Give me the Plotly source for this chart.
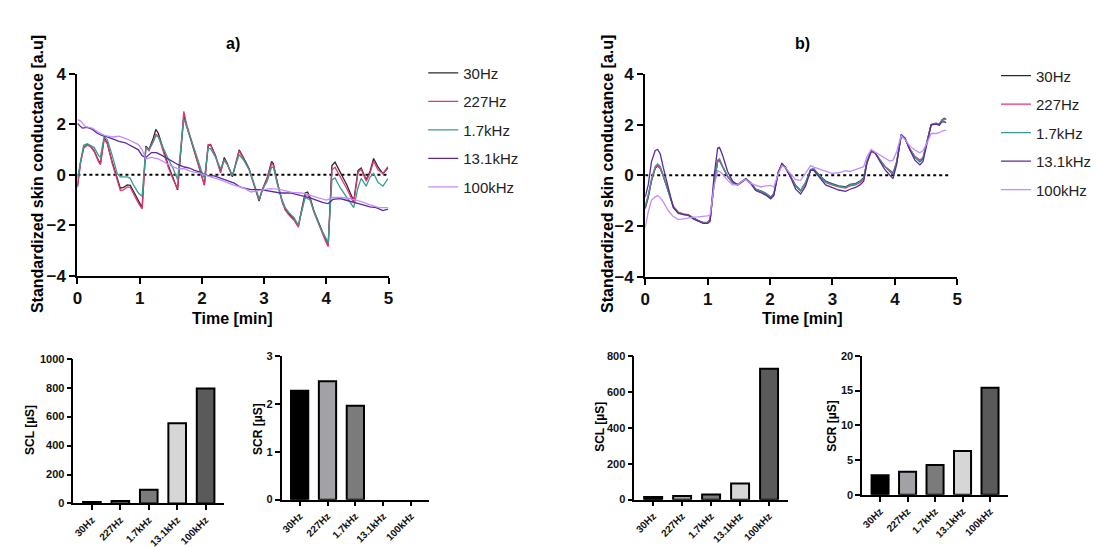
import plotly.graph_objects as go

# ---------------- data ----------------
NAMES = ["30Hz", "227Hz", "1.7kHz", "13.1kHz", "100kHz"]
LINE_COLORS = ["#2a2a2a", "#e8336f", "#3a9b93", "#5a2c9a", "#c28eff"]

# panel a) time grid for 30Hz / 227Hz / 1.7kHz
A_T = [0, 0.05, 0.10, 0.16, 0.21, 0.27, 0.34, 0.37, 0.43, 0.48,
       0.56, 0.64, 0.69, 0.74, 0.80, 0.85, 0.90, 0.98, 1.04, 1.10,
       1.15, 1.22, 1.26, 1.30, 1.38, 1.46, 1.54, 1.61, 1.71, 1.75,
       1.83, 1.91, 1.99, 2.04, 2.10, 2.14, 2.22, 2.30, 2.36, 2.41,
       2.49, 2.60, 2.68, 2.76, 2.84, 2.92, 2.97, 3.03, 3.05, 3.12,
       3.15, 3.21, 3.29, 3.34, 3.40, 3.48, 3.53, 3.55, 3.61, 3.66,
       3.70, 3.74, 3.80, 3.85, 3.90, 3.98, 4.03, 4.09, 4.14, 4.22,
       4.33, 4.44, 4.51, 4.56, 4.64, 4.70, 4.76, 4.83, 4.91, 4.99]
A_30 = [-0.46, 0.5, 1.08, 1.2, 1.14, 0.95, 0.56, 0.44, 1.46, 1.27,
        0.5, -0.14, -0.53, -0.5, -0.4, -0.42, -0.65, -1.04, -1.3, 1.14,
        1.0, 1.46, 1.8, 1.65, 1.0, 0.37, -0.14, -0.6, 2.36, 1.97,
        1.33, 0.69, 0.05, -0.4, 1.14, 1.2, 0.76, 0.12, 0.69, 0.44,
        -0.08, 0.99, 0.63, 0.24, -0.4, -1.04, -0.59, -0.2, -0.12, 0.53,
        0.44, -0.27, -1.04, -1.36, -1.55, -1.74, -1.94, -2.03, -1.3, -0.72,
        -0.68, -0.91, -1.42, -1.74, -2.06, -2.51, -2.75, 0.37, 0.5, 0.12,
        -0.4, -1.04, 0.18, 0.27, -0.2, 0.12, 0.65, 0.31, 0.05, 0.27]
A_227 = [-0.5, 0.45, 1.05, 1.18, 1.12, 0.92, 0.52, 0.4, 1.42, 1.24,
         0.45, -0.22, -0.62, -0.6, -0.48, -0.5, -0.75, -1.12, -1.35, 1.1,
         0.95, 1.35, 1.6, 1.55, 0.95, 0.3, -0.2, -0.55, 2.52, 2.05,
         1.38, 0.72, 0.05, -0.42, 1.2, 1.18, 0.72, 0.08, 0.62, 0.4,
         -0.05, 0.95, 0.58, 0.2, -0.42, -1.0, -0.62, -0.25, -0.15, 0.45,
         0.38, -0.3, -1.08, -1.4, -1.6, -1.8, -2.0, -2.08, -1.35, -0.82,
         -0.78, -0.98, -1.48, -1.8, -2.12, -2.58, -2.85, 0.2, 0.3, -0.05,
         -0.55, -1.12, 0.1, 0.22, -0.25, 0.05, 0.55, 0.2, 0.05, 0.32]
A_17 = [-0.15, 0.55, 1.17, 1.23, 1.15, 1.08, 0.76, 0.7, 1.53, 1.4,
        0.76, 0.05, -0.08, -0.08, -0.08, -0.14, -0.4, -0.72, -0.85, 1.08,
        0.99, 1.3, 1.55, 1.5, 1.05, 0.63, 0.24, -0.2, 2.23, 1.95,
        1.4, 0.8, 0.18, -0.14, 1.04, 1.04, 0.7, 0.24, 0.56, 0.4,
        -0.01, 0.8, 0.55, 0.2, -0.35, -0.95, -0.6, -0.3, -0.25, 0.3,
        0.3, -0.35, -1.0, -1.3, -1.5, -1.7, -1.9, -2.0, -1.4, -0.9,
        -0.95, -1.0, -1.45, -1.78, -2.08, -2.45, -2.7, -0.2, -0.12, -0.5,
        -0.9, -1.3, -0.5, -0.14, -0.45, -0.1, 0.05, -0.3, -0.45, -0.15]
A_T131 = [0, 0.08, 0.16, 0.24, 0.32, 0.40, 0.48, 0.56, 0.67, 0.77,
          0.88, 0.98, 1.04, 1.10, 1.19, 1.27, 1.35, 1.46, 1.54, 1.62,
          1.72, 1.80, 1.88, 1.96, 2.04, 2.12, 2.20, 2.30, 2.41, 2.52,
          2.63, 2.79, 2.95, 3.10, 3.26, 3.42, 3.58, 3.74, 3.85, 3.95,
          4.03, 4.11, 4.22, 4.33, 4.49, 4.59, 4.70, 4.80, 4.91, 4.99]
A_131 = [2.04, 1.85, 1.88, 1.8, 1.65, 1.55, 1.5, 1.42, 1.33, 1.27,
         1.14, 0.99, 0.76, 0.69, 0.88, 0.88, 0.78, 0.63, 0.5, 0.4,
         0.31, 0.27, 0.18, 0.12, 0.01, -0.04, -0.04, -0.14, -0.22, -0.33,
         -0.5, -0.59, -0.59, -0.65, -0.72, -0.72, -0.82, -0.91, -1.01, -1.1,
         -1.14, -0.97, -0.94, -1.01, -1.1, -1.19, -1.27, -1.3, -1.42, -1.36]
A_T100 = [0, 0.05, 0.13, 0.24, 0.34, 0.45, 0.56, 0.67, 0.80, 0.90,
          0.98, 1.04, 1.10, 1.19, 1.30, 1.40, 1.51, 1.62, 1.72, 1.82,
          1.95, 2.10, 2.30, 2.50, 2.68, 2.79, 2.95, 3.10, 3.25, 3.45,
          3.60, 3.69, 3.85, 4.00, 4.11, 4.25, 4.40, 4.55, 4.70, 4.85, 4.99]
A_100 = [2.19, 2.14, 1.91, 1.85, 1.68, 1.55, 1.5, 1.53, 1.42, 1.29,
         1.2, 0.99, 0.63, 0.69, 0.63, 0.5, 0.35, 0.24, 0.24, 0.14,
         0.08, -0.05, -0.2, -0.4, -0.53, -0.68, -0.6, -0.55, -0.58, -0.7,
         -0.72, -0.78, -0.88, -1.0, -0.9, -0.9, -0.95, -1.05, -1.19, -1.3, -1.3]

# panel b)
B_T = [0, 0.05, 0.10, 0.16, 0.20, 0.24, 0.29, 0.37, 0.45, 0.53,
       0.61, 0.69, 0.77, 0.85, 0.93, 1.00, 1.04, 1.10, 1.16, 1.19,
       1.24, 1.32, 1.40, 1.48, 1.56, 1.61, 1.69, 1.77, 1.85, 1.93,
       2.01, 2.06, 2.13, 2.19, 2.25, 2.33, 2.41, 2.49, 2.57, 2.65,
       2.70, 2.78, 2.89, 2.99, 3.10, 3.21, 3.28, 3.37, 3.44, 3.50,
       3.55, 3.62, 3.68, 3.76, 3.84, 3.92, 3.97, 4.03, 4.10, 4.16,
       4.24, 4.32, 4.40, 4.45, 4.52, 4.58, 4.66, 4.71, 4.75, 4.79, 4.82]
B_30 = [-1.31, -0.86, -0.23, 0.28, 0.38, 0.28, -0.04, -0.67, -1.24, -1.47,
        -1.54, -1.56, -1.69, -1.79, -1.88, -1.88, -1.75, -0.42, 0.56, 0.6,
        0.34, -0.04, -0.29, -0.36, -0.23, -0.13, -0.29, -0.55, -0.61, -0.71,
        -0.86, -0.74, 0.09, 0.43, 0.28, -0.04, -0.4, -0.6, -0.29, 0.22,
        0.25, 0.03, -0.23, -0.33, -0.42, -0.46, -0.36, -0.33, -0.23, -0.1,
        0.53, 0.94, 0.89, 0.6, 0.34, 0.15, 0.03, 0.53, 1.57, 1.45,
        1.02, 0.72, 0.53, 0.66, 1.36, 1.99, 2.06, 1.99, 2.18, 2.25, 2.21]
B_227 = [-1.25, -0.8, -0.2, 0.3, 0.4, 0.3, -0.02, -0.65, -1.22, -1.45,
         -1.52, -1.55, -1.7, -1.8, -1.86, -1.86, -1.72, -0.38, 0.55, 0.58,
         0.32, -0.06, -0.3, -0.38, -0.25, -0.15, -0.32, -0.58, -0.64, -0.74,
         -0.9, -0.76, 0.08, 0.45, 0.3, -0.06, -0.44, -0.62, -0.3, 0.22,
         0.24, 0.0, -0.28, -0.38, -0.46, -0.5, -0.42, -0.38, -0.28, -0.15,
         0.5, 0.92, 0.88, 0.62, 0.35, 0.2, 0.1, 0.55, 1.55, 1.46,
         1.05, 0.75, 0.6, 0.7, 1.4, 2.0, 2.05, 2.02, 2.15, 2.2, 2.24]
B_17 = [-1.2, -0.75, -0.15, 0.35, 0.45, 0.35, 0.0, -0.65, -1.25, -1.48,
        -1.55, -1.58, -1.7, -1.8, -1.88, -1.88, -1.76, -0.4, 0.6, 0.65,
        0.36, -0.02, -0.28, -0.36, -0.22, -0.14, -0.3, -0.56, -0.62, -0.72,
        -0.88, -0.75, 0.1, 0.44, 0.3, -0.04, -0.42, -0.6, -0.28, 0.24,
        0.26, 0.02, -0.25, -0.36, -0.44, -0.48, -0.38, -0.35, -0.25, -0.12,
        0.52, 0.95, 0.9, 0.6, 0.35, 0.16, 0.05, 0.55, 1.58, 1.46,
        1.03, 0.72, 0.55, 0.68, 1.38, 2.0, 2.05, 2.0, 2.16, 2.22, 2.2]
B_131 = [-0.86, -0.36, 0.53, 0.98, 1.02, 0.85, 0.3, -0.5, -1.28, -1.5,
         -1.55, -1.58, -1.72, -1.82, -1.9, -1.9, -1.82, -0.1, 1.07, 1.1,
         0.79, 0.15, -0.23, -0.38, -0.25, -0.15, -0.32, -0.6, -0.68, -0.78,
         -0.93, -0.8, 0.12, 0.47, 0.3, -0.08, -0.55, -0.74, -0.42, 0.2,
         0.2, -0.05, -0.38, -0.48, -0.58, -0.63, -0.55, -0.48, -0.38, -0.23,
         0.45, 0.98, 0.9, 0.55, 0.22, 0.0, -0.13, 0.45, 1.61, 1.48,
         1.0, 0.6, 0.41, 0.55, 1.3, 1.99, 2.02, 1.98, 2.1, 2.12, 2.08]
B_100 = [-2.07, -1.43, -0.99, -0.85, -0.8, -0.88, -1.05, -1.4, -1.63, -1.75,
         -1.72, -1.68, -1.65, -1.64, -1.63, -1.6, -1.56, -0.48, 0.18, 0.15,
         0.05, -0.2, -0.38, -0.38, -0.22, -0.17, -0.32, -0.4, -0.46, -0.42,
         -0.4, -0.46, 0.05, 0.38, 0.3, 0.05, -0.17, -0.2, 0.1, 0.38,
         0.32, 0.25, 0.15, 0.08, 0.1, 0.18, 0.15, 0.22, 0.28, 0.34,
         0.72, 1.02, 0.92, 0.8, 0.68, 0.56, 0.6, 0.95, 1.57, 1.42,
         1.15, 1.0, 0.89, 0.98, 1.3, 1.65, 1.65, 1.68, 1.74, 1.76, 1.78]

# bar panels
CATS = ["30Hz", "227Hz", "1.7kHz", "13.1kHz", "100kHz"]
SCL_A = [10, 18, 95, 555, 795]
SCR_A = [2.27, 2.47, 1.96, 0, 0]
SCL_B = [15, 20, 28, 90, 728]
SCR_B = [2.8, 3.3, 4.3, 6.3, 15.4]
BAR_COLORS = ["#000000", "#a2a2a6", "#7b7b7b", "#d6d6d6", "#5a5a5a"]

# ---------------- figure ----------------
W, H = 1101, 547
FONT = "Liberation Sans, Arial, sans-serif"


def px_x(p):
    return p / W


def px_y(p):
    return 1 - p / H


fig = go.Figure()

panel_a = [(A_T, A_30), (A_T, A_227), (A_T, A_17), (A_T131, A_131), (A_T100, A_100)]
panel_b = [(B_T, B_30), (B_T, B_227), (B_T, B_17), (B_T, B_131), (B_T, B_100)]

for i, (t, v) in enumerate(panel_a):
    fig.add_trace(go.Scatter(x=t, y=v, mode="lines", name=NAMES[i],
                             line=dict(color=LINE_COLORS[i], width=1.3),
                             xaxis="x", yaxis="y", legend="legend",
                             legendgroup="a" + NAMES[i]))
for i, (t, v) in enumerate(panel_b):
    fig.add_trace(go.Scatter(x=t, y=v, mode="lines", name=NAMES[i],
                             line=dict(color=LINE_COLORS[i], width=1.3),
                             xaxis="x2", yaxis="y2", legend="legend2",
                             legendgroup="b" + NAMES[i]))

bar_sets = [(SCL_A, "x3", "y3"), (SCR_A, "x4", "y4"), (SCL_B, "x5", "y5"), (SCR_B, "x6", "y6")]
for vals, xa, ya in bar_sets:
    edge = [2 if v > 0 else 0 for v in vals]
    fig.add_trace(go.Bar(x=CATS, y=vals, xaxis=xa, yaxis=ya, width=0.62,
                         marker=dict(color=BAR_COLORS, line=dict(color="black", width=edge)),
                         showlegend=False))

line_axis = dict(showline=True, linecolor="black", linewidth=2, ticks="outside",
                 ticklen=6, tickwidth=2, tickcolor="black", showgrid=False, zeroline=False,
                 tickfont=dict(family=FONT, size=17, color="#111", weight="bold"))
bar_x = dict(type="category", range=[-0.65, 4.65], showline=True, linecolor="black",
             linewidth=1.6, ticks="outside", ticklen=5, tickwidth=1.6, tickcolor="black",
             showgrid=False, zeroline=False, tickangle=-45,
             tickfont=dict(family=FONT, size=10, color="#111", weight="bold"))
bar_y = dict(showline=True, linecolor="black", linewidth=1.6, ticks="outside", ticklen=5,
             tickwidth=1.6, tickcolor="black", showgrid=False, zeroline=False,
             tickfont=dict(family=FONT, size=11, color="#111", weight="bold"))

fig.update_layout(
    width=W, height=H, margin=dict(l=0, r=0, t=0, b=0),
    paper_bgcolor="white", plot_bgcolor="white",
    font=dict(family=FONT, color="black"),
    xaxis=dict(line_axis, domain=[px_x(65), px_x(379)], range=[0, 5], dtick=1, anchor="y"),
    yaxis=dict(line_axis, domain=[px_y(268), px_y(59)], range=[-4, 4], dtick=2, anchor="x"),
    xaxis2=dict(line_axis, domain=[px_x(638), px_x(953)], range=[0, 5], dtick=1, anchor="y2"),
    yaxis2=dict(line_axis, domain=[px_y(269), px_y(59)], range=[-4, 4], dtick=2, anchor="x2"),
    xaxis3=dict(bar_x, domain=[px_x(61), px_x(213)], anchor="y3"),
    yaxis3=dict(bar_y, domain=[px_y(504), px_y(354)], range=[0, 1000], dtick=200, anchor="x3"),
    xaxis4=dict(bar_x, domain=[px_x(271), px_x(420)], anchor="y4"),
    yaxis4=dict(bar_y, domain=[px_y(500), px_y(351)], range=[0, 3], dtick=1, anchor="x4"),
    xaxis5=dict(bar_x, domain=[px_x(627), px_x(782)], anchor="y5"),
    yaxis5=dict(bar_y, domain=[px_y(500), px_y(351)], range=[0, 800], dtick=200, anchor="x5"),
    xaxis6=dict(bar_x, domain=[px_x(857), px_x(1004)], anchor="y6"),
    yaxis6=dict(bar_y, domain=[px_y(495), px_y(351)], range=[0, 20], dtick=5, anchor="x6"),
    legend=dict(x=px_x(414), y=px_y(41), xanchor="left", yanchor="top",
                font=dict(family=FONT, size=15, color="#222"), tracegroupgap=6,
                bgcolor="rgba(0,0,0,0)"),
    legend2=dict(x=px_x(992), y=px_y(44), xanchor="left", yanchor="top",
                 font=dict(family=FONT, size=15, color="#222"), tracegroupgap=6,
                 bgcolor="rgba(0,0,0,0)"),
    bargap=0.3,
)

# dotted zero lines
fig.add_shape(type="line", xref="x", yref="y", x0=0, x1=4.97, y0=0, y1=0,
              line=dict(color="black", width=2, dash="dot"), layer="below")
fig.add_shape(type="line", xref="x2", yref="y2", x0=0, x1=4.9, y0=0, y1=0,
              line=dict(color="black", width=2, dash="dot"), layer="below")

# titles and axis titles
big = dict(family=FONT, size=16, color="black", weight="bold")
small = dict(family=FONT, size=12, color="black", weight="bold")
ann = [
    dict(text="a)", x=px_x(222), y=px_y(27), font=big),
    dict(text="b)", x=px_x(797), y=px_y(27), font=big),
    dict(text="Time [min]", x=px_x(222), y=px_y(312), font=big),
    dict(text="Time [min]", x=px_x(797), y=px_y(312), font=big),
    dict(text="Standardized skin conductance [a.u]", x=px_x(25), y=px_y(163), font=big, textangle=-90),
    dict(text="Standardized skin conductance [a.u]", x=px_x(600), y=px_y(163), font=big, textangle=-90),
    dict(text="SCL [µS]", x=px_x(17), y=px_y(428), font=small, textangle=-90),
    dict(text="SCR [µS]", x=px_x(247), y=px_y(427), font=small, textangle=-90),
    dict(text="SCL [µS]", x=px_x(593), y=px_y(425), font=small, textangle=-90),
    dict(text="SCR [µS]", x=px_x(827), y=px_y(423), font=small, textangle=-90),
]
for a in ann:
    fig.add_annotation(xref="paper", yref="paper", showarrow=False,
                       xanchor="center", yanchor="middle", **a)

fig.write_html("out.html")
